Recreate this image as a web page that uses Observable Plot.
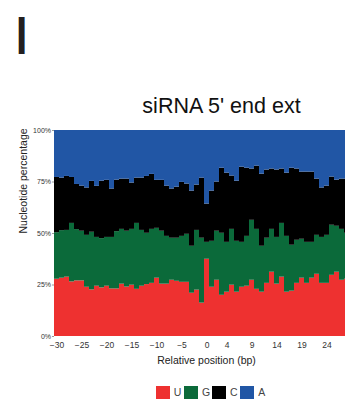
<!DOCTYPE html>
<html>
<head>
<meta charset="utf-8">
<script src="https://cdn.jsdelivr.net/npm/d3@7"></script>
<script src="https://cdn.jsdelivr.net/npm/@observablehq/plot@0.6"></script>
<style>
  html, body { margin: 0; padding: 0; background: #fff; overflow: hidden; }
  #wrap { position: relative; width: 345px; height: 405px; font-family: "Liberation Sans", Arial, sans-serif; }
  #panel { position: absolute; left: 16.4px; top: 4px; font-size: 54px; font-weight: bold; line-height: normal; color: #231f20; transform: scaleX(0.75); transform-origin: left top; }
  #title { position: absolute; left: 221.5px; top: 95.8px; transform: translateX(-50%); font-size: 21.5px; line-height: 1; white-space: nowrap; color: #111; }
  #chart { position: absolute; left: 0; top: 120px; }
  #chart svg { overflow: hidden; }
  .item { position: absolute; top: 385.7px; display: flex; align-items: center; }
  .sw { width: 14px; height: 13.5px; }
  .lab { margin-left: 4px; font-size: 10.5px; color: #444; line-height: 13.5px; }
</style>
</head>
<body>
<div id="wrap">
  <div id="panel">I</div>
  <div id="title">siRNA 5' end ext</div>
  <div id="chart"></div>
</div>
<script>
// Relative positions (bp) around the siRNA 5' end
const positions = [-30, -29, -28, -27, -26, -25, -24, -23, -22, -21, -20, -19, -18, -17, -16,
  -15, -14, -13, -12, -11, -10, -9, -8, -7, -6, -5, -4, -3, -2, -1,
  0, 1, 2, 3, 4, 5, 6, 7, 8, 9, 10, 11, 12, 13, 14,
  15, 16, 17, 18, 19, 20, 21, 22, 23, 24, 25, 26, 27, 28];

// Nucleotide percentages per position
const U = [27.8, 28.3, 28.8, 26.5, 27.0, 27.0, 23.9, 22.6, 24.4, 23.6, 24.4, 23.1, 23.1, 25.4, 24.0,
  24.9, 22.9, 24.4, 25.2, 25.8, 28.3, 25.4, 25.4, 27.3, 26.8, 26.3, 26.3, 21.0, 22.5, 16.2,
  37.5, 23.9, 27.3, 20.0, 21.5, 24.9, 21.5, 23.9, 24.4, 27.3, 22.9, 21.5, 25.8, 31.2, 25.4,
  28.8, 21.5, 22.0, 25.8, 28.3, 25.8, 28.3, 30.2, 25.8, 25.8, 29.7, 31.2, 27.3, 27.8];
const G = [22.6, 23.1, 22.7, 28.4, 24.9, 24.1, 25.2, 28.0, 23.7, 23.9, 23.7, 25.0, 27.8, 26.6, 27.1,
  27.1, 32.0, 27.1, 24.9, 26.2, 24.2, 25.7, 23.2, 20.4, 20.9, 22.3, 23.3, 22.8, 29.0, 31.5,
  8.2, 22.3, 23.8, 30.1, 24.2, 27.1, 24.7, 21.8, 24.2, 29.1, 29.1, 22.3, 21.9, 20.8, 22.7,
  26.1, 27.1, 22.3, 20.9, 18.9, 19.9, 17.4, 18.9, 22.3, 23.3, 24.3, 22.3, 24.7, 22.3];
const C = [26.8, 25.5, 26.2, 22.3, 21.9, 21.9, 23.0, 24.7, 24.8, 27.9, 27.7, 23.5, 25.0, 24.4, 25.3,
  22.5, 22.0, 25.4, 27.6, 26.7, 23.3, 24.7, 24.4, 23.9, 24.8, 26.2, 24.4, 26.8, 22.0, 29.2,
  18.6, 24.4, 23.9, 31.6, 33.6, 25.9, 29.2, 36.5, 33.1, 24.9, 30.7, 35.0, 33.1, 29.3, 32.7,
  26.4, 30.7, 37.4, 34.6, 32.6, 34.1, 34.1, 27.3, 24.0, 23.9, 23.4, 22.4, 24.4, 26.3];
const A = [22.8, 23.1, 22.3, 22.8, 26.2, 27.0, 27.9, 24.7, 27.1, 24.6, 24.2, 28.4, 24.1, 23.6, 23.6,
  25.5, 23.1, 23.1, 22.3, 21.3, 24.2, 24.2, 27.0, 28.4, 27.5, 25.2, 26.0, 29.4, 26.5, 23.1,
  35.7, 29.4, 25.0, 18.3, 20.7, 22.1, 24.6, 17.8, 18.3, 18.7, 17.3, 21.2, 19.2, 18.7, 19.2,
  18.7, 20.7, 18.3, 18.7, 20.2, 20.2, 20.2, 23.6, 27.9, 27.0, 22.6, 24.1, 23.6, 23.6];

const bases = ["U", "G", "C", "A"];
const baseColors = ["#ee3130", "#0b6a3a", "#000000", "#2156a5"];
const xTicks = [-30, -25, -20, -15, -10, -5, 0, 4, 9, 14, 19, 24];
const yTicks = [0, 25, 50, 75, 100];
const yTitle = "Nucleotide percentage";
const xTitle = "Relative position (bp)";

// Long-format table for the stacked bars
const series = {U, G, C, A};
const rows = [];
positions.forEach((p, i) => {
  for (const b of bases) rows.push({pos: p, base: b, value: series[b][i]});
});

const fmtPos = d => (d < 0 ? "\u2212" + (-d) : String(d));

const chart = Plot.plot({
  width: 345,
  height: 250,
  marginTop: 10,
  marginBottom: 34,
  marginLeft: 54,
  marginRight: -4,
  style: {fontFamily: "Liberation Sans, Arial, sans-serif", color: "#333", background: "transparent"},
  x: {type: "band", domain: positions, padding: 0},
  y: {domain: [0, 100]},
  color: {domain: bases, range: baseColors},
  marks: [
    Plot.barY(rows, {x: "pos", y: "value", fill: "base", order: bases}),
    Plot.axisY({ticks: yTicks, tickFormat: d => d + "%", tickSize: 2, tickPadding: 1.5, fontSize: 7, label: null, stroke: "#999"}),
    Plot.axisX({ticks: xTicks, tickFormat: fmtPos, tickSize: 0, tickPadding: 5, fontSize: 8.5, label: null}),
    Plot.text([yTitle], {frameAnchor: "left", dx: -31, rotate: -90, fontSize: 10.5, fill: "#222"}),
    Plot.text([xTitle], {frameAnchor: "bottom", dx: 4.5, dy: 27, fontSize: 10.5, fill: "#222"})
  ]
});
document.getElementById("chart").append(chart);

// Legend below the chart
const wrap = document.getElementById("wrap");
bases.forEach((b, i) => {
  const item = document.createElement("div");
  item.className = "item";
  item.style.left = (155.7 + i * 28.2) + "px";
  const sw = document.createElement("div");
  sw.className = "sw";
  sw.style.background = baseColors[i];
  const lab = document.createElement("span");
  lab.className = "lab";
  lab.textContent = b;
  item.append(sw, lab);
  wrap.append(item);
});
</script>
</body>
</html>
